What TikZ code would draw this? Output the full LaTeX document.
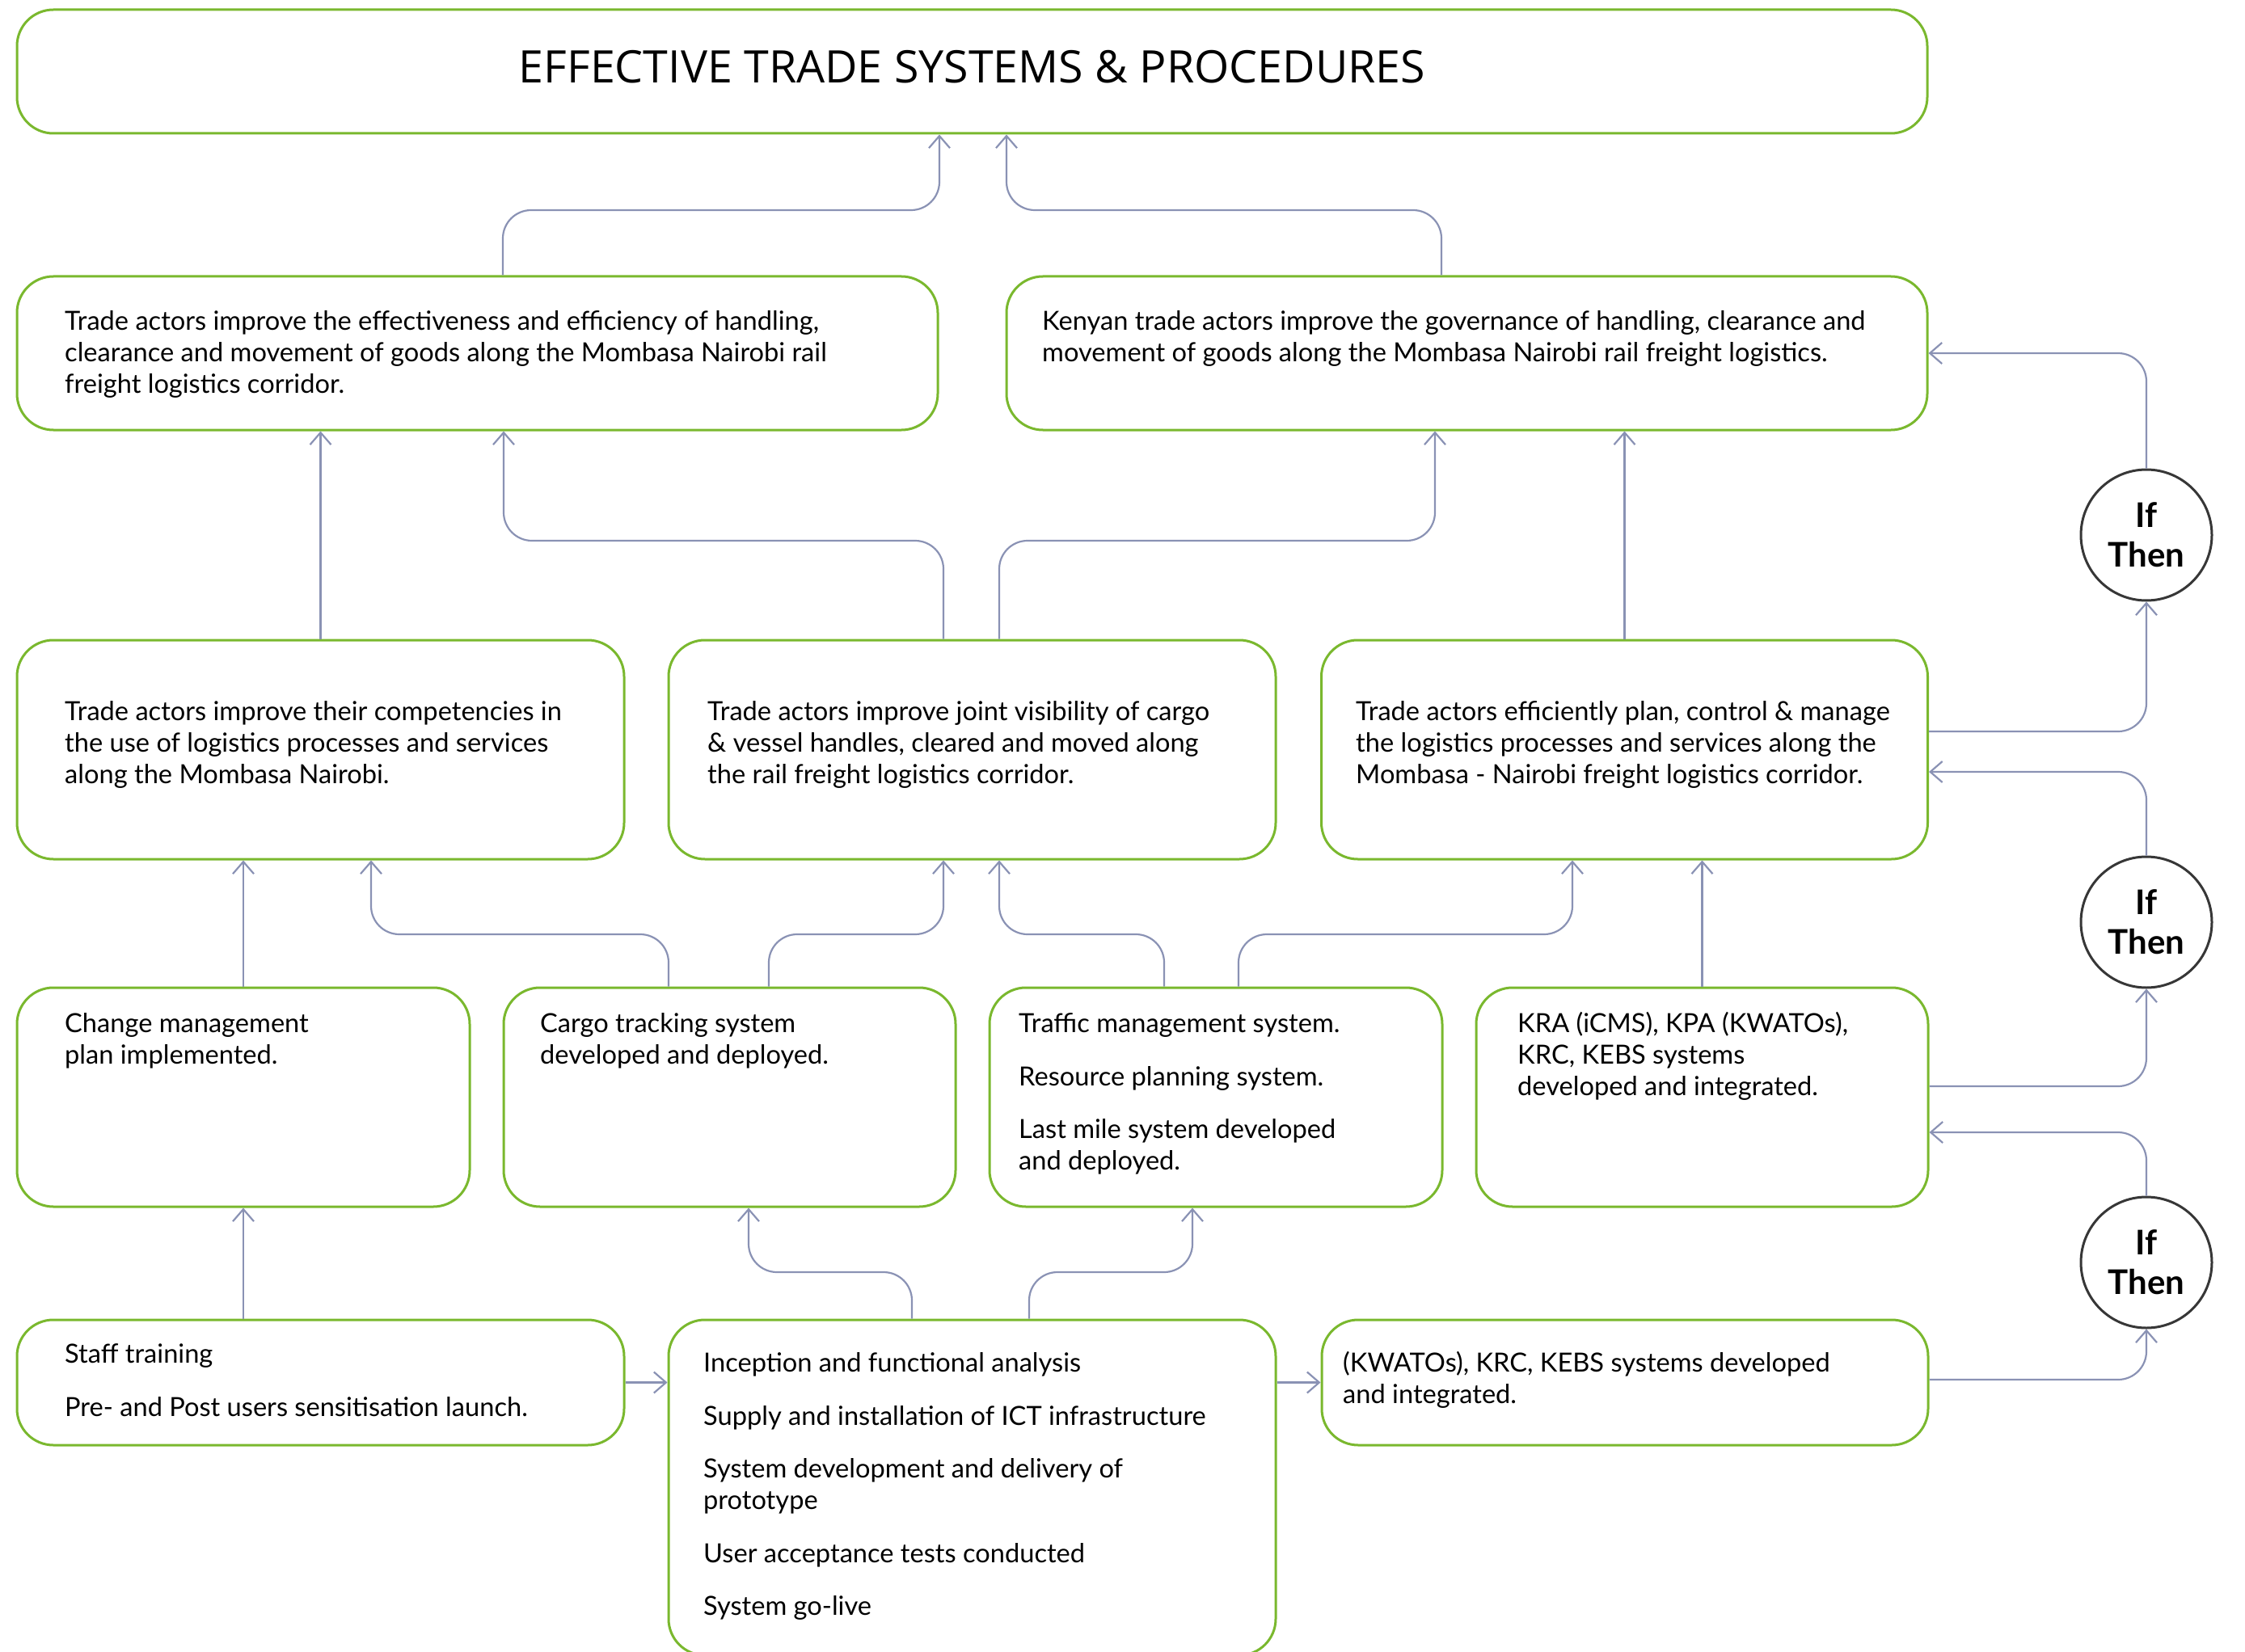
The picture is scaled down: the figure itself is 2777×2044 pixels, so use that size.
\documentclass[tikz,border=0pt]{standalone}
\usepackage{fontspec}
\setmainfont{Lato}
\newfontfamily\titlefont{Open Sans}
\usetikzlibrary{arrows.meta}
\definecolor{boxgreen}{RGB}{122,184,46}
\definecolor{linkblue}{RGB}{138,146,180}
\definecolor{ringgray}{RGB}{55,55,55}
\begin{document}
\begin{tikzpicture}[x=1pt,y=-1pt,
  box/.style={draw=boxgreen, line width=3pt, rounded corners=45pt, inner sep=0pt},
  txt/.style={anchor=north west, inner sep=0pt, align=left, font=\fontsize{32.6}{39}\selectfont},
  ring/.style={circle, draw=ringgray, line width=3pt, minimum size=162pt, inner sep=0pt, align=center, font=\bfseries\fontsize{42}{49}\selectfont},
  conn/.style={draw=linkblue, line width=2.2pt, rounded corners=35pt, -{Straight Barb[length=15pt,width=26pt]}}]
\useasboundingbox (0,0) rectangle (2777,2044);
\def\gap{26.5pt}
% boxes
\node[box, minimum width=2363pt, minimum height=153pt] (title) at (1202.5,88.5) {};
\node[inner sep=0pt, font=\titlefont\fontsize{55.5}{62}\selectfont] (titletext) at (1202.5,82.5) {EFFECTIVE TRADE SYSTEMS \& PROCEDURES};
\node[box, minimum width=1139pt, minimum height=190pt] (A) at (590.5,437) {};
\node[box, minimum width=1139pt, minimum height=190pt] (B) at (1814.5,437) {};
\node[box, minimum width=751pt, minimum height=271pt] (C1) at (396.5,927.5) {};
\node[box, minimum width=751pt, minimum height=271pt] (C2) at (1202.5,927.5) {};
\node[box, minimum width=750pt, minimum height=271pt] (C3) at (2009.5,927.5) {};
\node[box, minimum width=560pt, minimum height=271pt] (D1) at (301,1357.5) {};
\node[box, minimum width=559pt, minimum height=271pt] (D2) at (902.5,1357.5) {};
\node[box, minimum width=560pt, minimum height=271pt] (D3) at (1504,1357.5) {};
\node[box, minimum width=559pt, minimum height=271pt] (D4) at (2105.5,1357.5) {};
\node[box, minimum width=751pt, minimum height=155pt] (E1) at (396.5,1710.5) {};
\node[box, minimum width=751pt, minimum height=415pt] (E2) at (1202.5,1840.5) {};
\node[box, minimum width=750pt, minimum height=155pt] (E3) at (2010,1710.5) {};
\node[ring] (I1) at (2655,662) {If\\Then};
\node[ring] (I2) at (2655,1141) {If\\Then};
\node[ring] (I3) at (2655,1562) {If\\Then};
% texts
\node[txt] (tA) at (80,381.2) {\strut Trade actors improve the effectiveness and efficiency of handling,\\clearance and movement of goods along the Mombasa Nairobi rail\\freight logistics corridor.};
\node[txt] (tB) at (1289,381.2) {\strut Kenyan trade actors improve the governance of handling, clearance and\\movement of goods along the Mombasa Nairobi rail freight logistics.};
\node[txt] (tC1) at (80,864.2) {\strut Trade actors improve their competencies in\\the use of logistics processes and services\\along the Mombasa Nairobi.};
\node[txt] (tC2) at (875,864.2) {\strut Trade actors improve joint visibility of cargo\\\& vessel handles, cleared and moved along\\the rail freight logistics corridor.};
\node[txt] (tC3) at (1677,864.2) {\strut Trade actors efficiently plan, control \& manage\\the logistics processes and services along the\\Mombasa - Nairobi freight logistics corridor.};
\node[txt] (tD1) at (80,1250.2) {\strut Change management\\plan implemented.};
\node[txt] (tD2) at (668,1250.2) {\strut Cargo tracking system\\developed and deployed.};
\node[txt] (tD3) at (1260,1250.2) {\strut Traffic management system.\\[\gap]Resource planning system.\\[\gap]Last mile system developed\\and deployed.};
\node[txt] (tD4) at (1877,1250.2) {\strut KRA (iCMS), KPA (KWATOs),\\KRC, KEBS systems\\developed and integrated.};
\node[txt] (tE1) at (80,1659.2) {\strut Staff training\\[\gap]Pre- and Post users sensitisation launch.};
\node[txt] (tE2) at (870,1670.2) {\strut Inception and functional analysis\\[\gap]Supply and installation of ICT infrastructure\\[\gap]System development and delivery of\\prototype\\[\gap]User acceptance tests conducted\\[\gap]System go-live};
\node[txt] (tE3) at (1661,1670.2) {\strut (KWATOs), KRC, KEBS systems developed\\and integrated.};
% connectors
\draw[conn] (622,0 |- A.north) -- (622,260) -- (1162,260) -- (1162,0 |- title.south);
\draw[conn] (1783,0 |- B.north) -- (1783,260) -- (1245,260) -- (1245,0 |- title.south);
\draw[conn] (C1.north) -- (C1.north |- A.south);
\draw[conn] (1167,0 |- C2.north) -- (1167,669) -- (623,669) -- (623,0 |- A.south);
\draw[conn] (1236,0 |- C2.north) -- (1236,669) -- (1775,669) -- (1775,0 |- B.south);
\draw[conn] (C3.north) -- (C3.north |- B.south);
\draw[conn] (C3.east |- 0,905) -- (2655,905) -- (I1.south);
\draw[conn] (I1.north) -- (2655,437) -- (B.east);
\draw[conn] (I2.north) -- (2655,955) -- (C3.east |- 0,955);
\draw[conn] (D4.east |- 0,1344) -- (2655,1344) -- (I2.south);
\draw[conn] (I3.north) -- (2655,1401) -- (D4.east |- 0,1401);
\draw[conn] (E3.east |- 0,1707) -- (2655,1707) -- (I3.south);
\draw[conn] (D1.north) -- (D1.north |- C1.south);
\draw[conn] (827,0 |- D2.north) -- (827,1156) -- (459,1156) -- (459,0 |- C1.south);
\draw[conn] (951,0 |- D2.north) -- (951,1156) -- (1167,1156) -- (1167,0 |- C2.south);
\draw[conn] (1440,0 |- D3.north) -- (1440,1156) -- (1236,1156) -- (1236,0 |- C2.south);
\draw[conn] (1532,0 |- D3.north) -- (1532,1156) -- (1945,1156) -- (1945,0 |- C3.south);
\draw[conn] (D4.north) -- (D4.north |- C3.south);
\draw[conn] (D1.south |- E1.north) -- (D1.south);
\draw[conn] (1128,0 |- E2.north) -- (1128,1574) -- (926,1574) -- (926,0 |- D2.south);
\draw[conn] (1273,0 |- E2.north) -- (1273,1574) -- (1475,1574) -- (1475,0 |- D3.south);
\draw[conn] (E1.east) -- (E1.east -| E2.west);
\draw[conn] (E2.east |- E3.west) -- (E3.west);
\end{tikzpicture}
\end{document}
